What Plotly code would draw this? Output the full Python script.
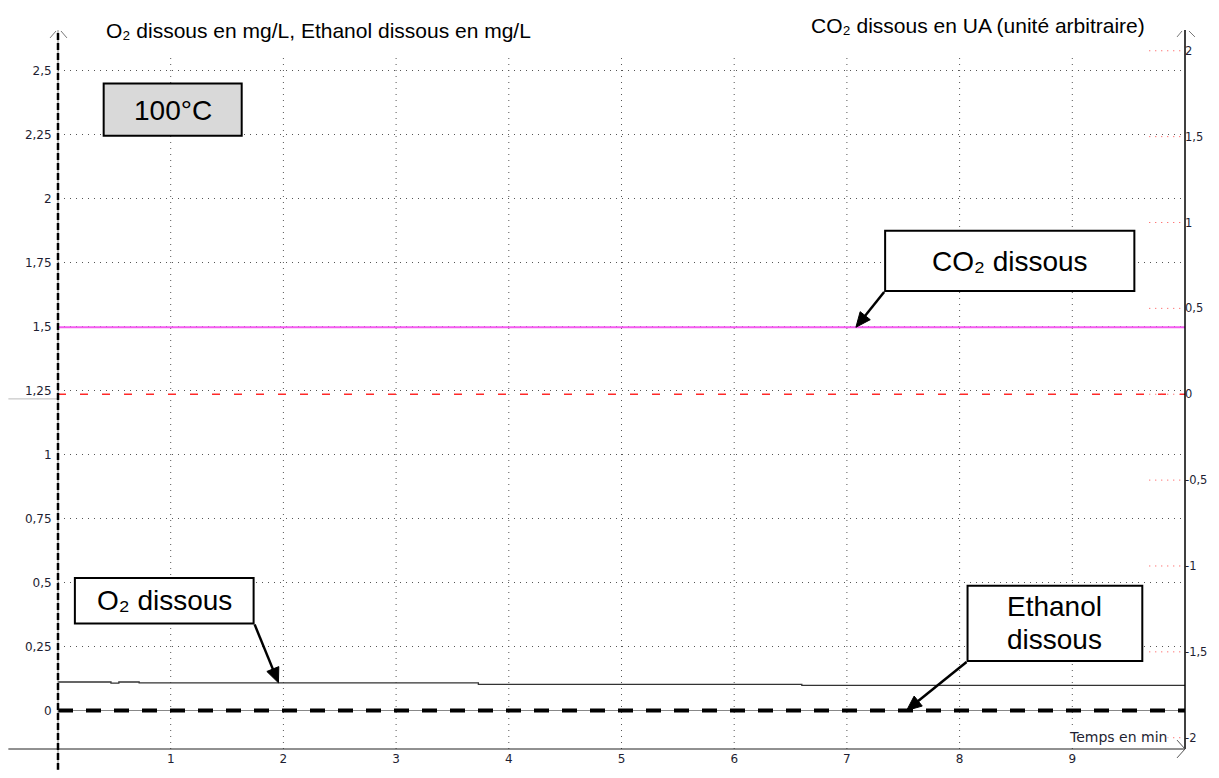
import math
import plotly.graph_objects as go

# ---------------- data ----------------
time_span = [0, 10]                       # minutes
o2_time = [0, 0.47, 0.54, 0.72, 3.73, 6.6, 10]
o2_vals = [0.111, 0.107, 0.111, 0.108, 0.102, 0.098, 0.098]   # mg/L
ethanol_vals = [0, 0]                     # mg/L
co2_vals = [0.39, 0.39]                   # UA (right axis)
ref_zero_vals = [0, 0]                    # red dashed reference (right axis)

x_ticks = [1, 2, 3, 4, 5, 6, 7, 8, 9]
x_ticktext = ["1", "2", "3", "4", "5", "6", "7", "8", "9"]
y_ticks = [0, 0.25, 0.5, 0.75, 1, 1.25, 1.5, 1.75, 2, 2.25, 2.5]
y_ticktext = ["0", "0,25", "0,5", "0,75", "1", "1,25", "1,5", "1,75", "2", "2,25", "2,5"]
y2_ticks = [-2, -1.5, -1, -0.5, 0, 0.5, 1, 1.5, 2]
y2_ticktext = ["-2", "-1,5", "-1", "-0,5", "0", "0,5", "1", "1,5", "2"]

# ---------------- geometry helpers ----------------
W, H = 1219, 778
L, R, T, B = 58, 26, 30, 21
PW, PH = W - L - R, H - T - B
X_RANGE = [0, 10]
Y_RANGE = [-0.1507, 2.6584]
Y2_RANGE = [-2.0657, 2.1209]


def px(xp):
    return (xp - L) / PW


def py(yp):
    return (H - B - yp) / PH


def data_to_px(xv, yv, rng):
    xp = L + (xv - X_RANGE[0]) / (X_RANGE[1] - X_RANGE[0]) * PW
    yp = (H - B) - (yv - rng[0]) / (rng[1] - rng[0]) * PH
    return xp, yp


TICKFONT = dict(family="DejaVu Sans", size=12, color="#1e1e32")
TICKFONT_R = dict(family="DejaVu Sans", size=11.5, color="#1e1e32")
ARIAL = "Liberation Sans, Arial"

fig = go.Figure()

fig.add_trace(go.Scatter(x=time_span, y=ref_zero_vals, yaxis="y2", mode="lines",
                         line=dict(color="#ff2a2a", width=1.5, dash="8px,14px"),
                         showlegend=False, hoverinfo="skip"))
fig.add_trace(go.Scatter(x=time_span, y=co2_vals, yaxis="y2", mode="lines",
                         line=dict(color="#f45cf0", width=2), name="CO2 dissous",
                         showlegend=False))
fig.add_trace(go.Scatter(x=o2_time, y=o2_vals, mode="lines", line_shape="hv",
                         line=dict(color="#333333", width=1.3), name="O2 dissous",
                         showlegend=False))
fig.add_trace(go.Scatter(x=time_span, y=ethanol_vals, mode="lines",
                         line=dict(color="#000000", width=4, dash="15px,13px"),
                         name="Ethanol dissous", showlegend=False))

shapes = []
# vertical dotted gridlines
for xv in x_ticks:
    shapes.append(dict(type="line", xref="x", yref="paper", x0=xv, x1=xv,
                       y0=0, y1=py(58), layer="below",
                       line=dict(color="#555555", width=1, dash="1px,5px")))
# red dotted tick marks of the right axis
for yv in y2_ticks:
    shapes.append(dict(type="line", xref="paper", yref="y2", x0=px(1157), x1=px(1189),
                       y0=yv, y1=yv, line=dict(color="#ff4a4a", width=1, dash="1px,5px")))


def seg(x0, y0, x1, y1, color, width, dash="solid"):
    shapes.append(dict(type="line", xref="paper", yref="paper",
                       x0=px(x0), y0=py(y0), x1=px(x1), y1=py(y1),
                       line=dict(color=color, width=width, dash=dash)))


def arrow(tail, tip, head_len=15, half_w=6.5):
    tx, ty = tail
    hx, hy = tip
    dx, dy = hx - tx, hy - ty
    n = math.hypot(dx, dy)
    ux, uy = dx / n, dy / n
    bx, by = hx - ux * head_len, hy - uy * head_len
    seg(tx, ty, bx + ux * 2, by + uy * 2, "#000000", 2.5)
    p1 = (bx - uy * half_w, by + ux * half_w)
    p2 = (bx + uy * half_w, by - ux * half_w)
    path = "M{},{} L{},{} L{},{} Z".format(px(hx), py(hy), px(p1[0]), py(p1[1]),
                                           px(p2[0]), py(p2[1]))
    shapes.append(dict(type="path", xref="paper", yref="paper", path=path,
                       fillcolor="#000000", line=dict(color="#000000", width=1)))


# axes
seg(8, 757, 1193, 757, "#222222", 1)
seg(8, 403, 57, 403, "#bbbbbb", 1)
seg(58, 30, 58, 778, "#888888", 1)
seg(58, 33, 58, 778, "#000000", 2.5, "7px,3px")
seg(1193, 30, 1193, 757, "#000000", 1.5)
# arrow tips of the axes
seg(50, 38, 56, 31, "#777777", 1)
seg(61, 31, 67, 38, "#777777", 1)
seg(1185, 37, 1190, 31, "#777777", 1)
seg(1197, 31, 1203, 37, "#777777", 1)
seg(1185, 748, 1193, 757, "#555555", 1)
seg(1193, 757, 1185, 766, "#555555", 1)

# callout arrows (tips sit on the data lines)
arrow((890, 295), data_to_px(7.08, co2_vals[0], Y2_RANGE))
arrow((256, 631), data_to_px(1.956, o2_vals[3], Y_RANGE))
arrow((973, 669), data_to_px(7.53, ethanol_vals[0], Y_RANGE))

# frames of the callouts
FRAMES = [(103, 83, 244, 138, "#d9d9d9"), (890, 232, 1143, 295, "white"),
          (74, 583, 256, 631, "white"), (973, 591, 1151, 669, "white")]
for x0, y0, x1, y1, bg in FRAMES:
    shapes.append(dict(type="rect", xref="paper", yref="paper",
                       x0=px(x0 + 1), x1=px(x1 - 1), y0=py(y0 + 1), y1=py(y1 - 1),
                       fillcolor=bg, line=dict(color="#000000", width=2)))

annotations = []


def label(text, xc, yc, size=28, family=ARIAL, anchor="center", bg=None, color="#000000"):
    d = dict(text=text, xref="paper", yref="paper", x=px(xc), y=py(yc),
             xanchor=anchor, yanchor="middle", showarrow=False, borderpad=0,
             font=dict(family=family, size=size, color=color))
    if bg:
        d["bgcolor"] = bg
    annotations.append(d)


label("100°C", 173.5, 111)
label("CO₂ dissous", 1016.5, 264)
label("O₂ dissous", 165, 607)
label("Ethanol", 1062, 613)
label("dissous", 1062, 646)

label("O₂ dissous en mg/L, Ethanol dissous en mg/L", 105, 30, size=21, anchor="left")
label("CO₂ dissous en UA (unité arbitraire)", 815, 25, size=21, anchor="left")
label("Temps en min", 1176, 745, size=14, family="DejaVu Sans", anchor="right",
      bg="white", color="#1e1e32")

fig.update_layout(
    autosize=True,
    margin=dict(l=L, r=R, t=T, b=B, pad=0),
    paper_bgcolor="white", plot_bgcolor="white",
    showlegend=False,
    xaxis=dict(range=X_RANGE, tickvals=x_ticks, ticktext=x_ticktext,
               showgrid=False, zeroline=False, showline=False,
               ticks="", ticklen=0, ticklabelstandoff=1,
               tickfont=TICKFONT),
    yaxis=dict(range=Y_RANGE, tickvals=y_ticks, ticktext=y_ticktext,
               showgrid=True, gridcolor="#555555", griddash="1px,5px", gridwidth=1,
               zeroline=True, zerolinecolor="#888888", zerolinewidth=1,
               showline=False, ticks="outside", ticklen=3,
               tickcolor="rgba(0,0,0,0)", tickfont=TICKFONT),
    yaxis2=dict(range=Y2_RANGE, overlaying="y", side="right",
                tickvals=y2_ticks, ticktext=y2_ticktext, showgrid=False,
                zeroline=False, showline=False, ticks="", ticklen=0,
                ticklabelstandoff=-1, tickfont=TICKFONT_R),
    shapes=shapes,
    annotations=annotations,
)

# The plot div is pinned to the page origin so the page is exactly the
# 1219x778 figure (no body margin, no scrollbars).
fig.write_html("out.html",
               config={"displayModeBar": False},
               default_width="%dpx;position:absolute;left:0;top:0" % W,
               default_height="%dpx" % H)
